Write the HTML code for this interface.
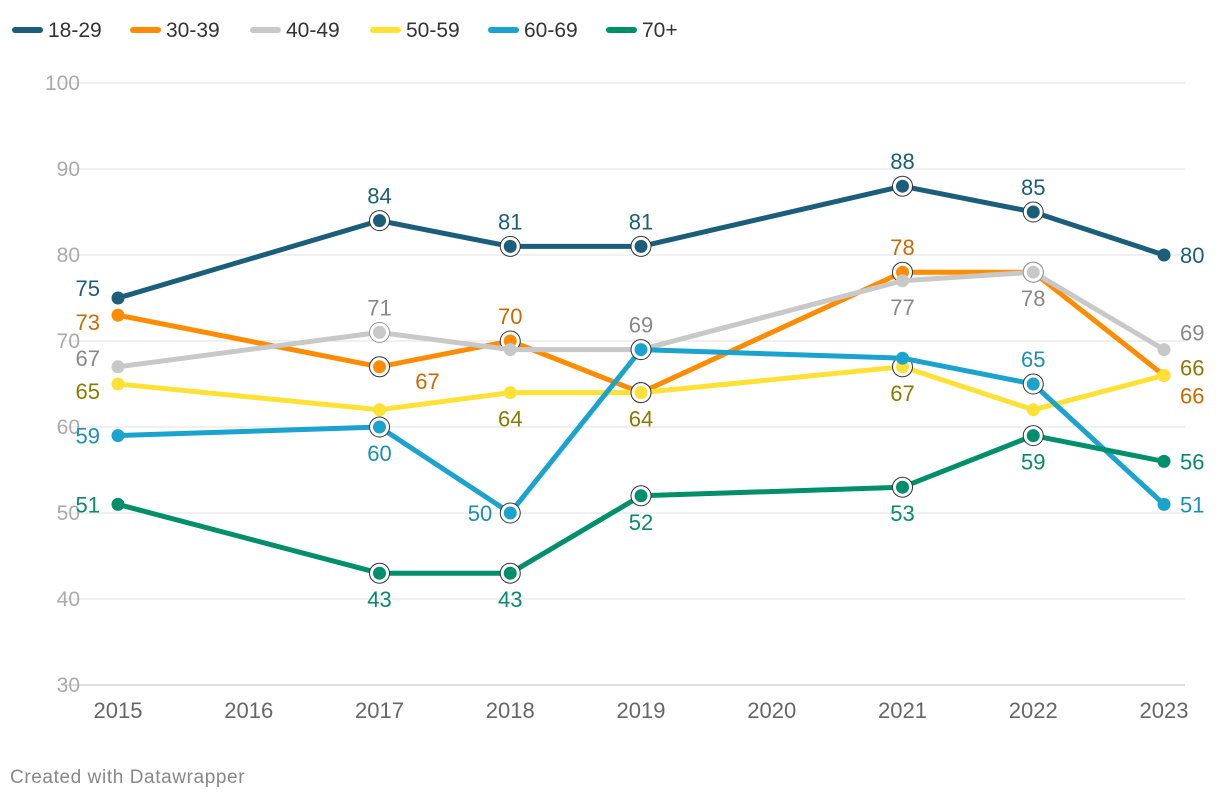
<!DOCTYPE html>
<html><head><meta charset="utf-8"><style>
body{margin:0;background:#fff;font-family:"Liberation Sans",sans-serif;}
svg{display:block}
</style></head><body>
<svg id="chart" width="1220" height="800" xmlns="http://www.w3.org/2000/svg"></svg>
<script>
const years=[2015,2017,2018,2019,2021,2022,2023];
const seriesNames=["18-29","30-39","40-49","50-59","60-69","70+"];
const s1829=[75,84,81,81,88,85,80];
const s3039=[73,67,70,64,78,78,66];
const s4049=[67,71,69,69,77,78,69];
const s5059=[65,62,64,64,67,62,66];
const s6069=[59,60,50,69,68,65,51];
const s70=[51,43,43,52,53,59,56];
const yTicks=[30,40,50,60,70,80,90,100];
const xTicks=[2015,2016,2017,2018,2019,2020,2021,2022,2023];
const values=[s1829,s3039,s4049,s5059,s6069,s70];
const lineColors=["#1b5e7b","#ff8c00","#c8c8c8","#ffe135","#1ba3d0","#008f6b"];
const labelColors=["#1b5e7b","#c96a00","#888888","#8a7a00","#1a8fb5","#0a8a6a"];
// label placement per point
const place=[
 ["la","a","a","a","a","a","r"],
 ["ld","br","a","x","a","x","rb"],
 ["lu","a","x","a","b","b","rA"],
 ["ld","x","b","b","b","x","ra"],
 ["l","b","l","x","x","a","r"],
 ["l","b","b","b","b","b","r"]];
const rings=[
 [0,1,1,1,1,1,0],[0,1,1,1,1,1,0],[0,1,0,0,0,1,0],[0,0,0,1,1,0,0],[0,1,1,1,0,1,0],[0,1,1,1,1,1,0]];
const X=y=>118+(y-2015)*130.75;
const Y=v=>685-(v-30)*8.6;
const NS="http://www.w3.org/2000/svg";
const svg=document.getElementById('chart');
function mk(t,a,p){const e=document.createElementNS(NS,t);for(const k in a)e.setAttribute(k,a[k]);(p||svg).appendChild(e);return e;}
yTicks.forEach(t=>{
 const l=mk('line',{x1:62,x2:1185,y1:Y(t),y2:Y(t),stroke:t===30?'#bbb':'#e2e2e2','stroke-width':1});
 
 
 const tx=mk('text',{x:80,y:Y(t)+7,'text-anchor':'end','font-size':21,fill:'#aaa'});tx.textContent=t;
 
 
});
xTicks.forEach(t=>{
 const tx=mk('text',{x:X(t),y:718,'text-anchor':'middle','font-size':22,fill:'#666'});tx.textContent=t;
 
 
});
values.forEach((vals,si)=>{
 const g=mk('g',{});
 
 
 const pts=vals.map((v,i)=>X(years[i])+','+Y(v)).join(' ');
 mk('polyline',{points:pts,fill:'none',stroke:lineColors[si],'stroke-width':5,'stroke-linejoin':'round','stroke-linecap':'round'},g);
 vals.forEach((v,i)=>{
  const cx=X(years[i]),cy=Y(v);
  if(rings[si][i])mk('circle',{cx,cy,r:10,fill:'#fff',stroke:lineColors[si]==='#c8c8c8'?'#999':'#333','stroke-width':1},g);
  const c=mk('circle',{cx,cy,r:6.5,fill:lineColors[si]},g);
  
  
  const p=place[si][i];if(p==='x')return;
  let tx=cx,ty=cy+8,anc='middle';
  if(p==='a')ty=cy-17;
  if(p==='b')ty=cy+34;
  if(p[0]==='l'){tx=cx-18;anc='end';}
  if(p==='la')ty=cy-2;
  if(p==='lu')ty=cy-1;
  if(p==='ld')ty=cy+15;
  if(p==='br'){tx=cx+48;ty=cy+22;}
  if(p[0]==='r'){tx=cx+16;anc='start';}
  if(p==='rb')ty=cy+28;
  if(p==='ra')ty=cy;
  if(p==='rA')ty=cy-9;
  const t=mk('text',{x:tx,y:ty,'text-anchor':anc,'font-size':22,fill:labelColors[si]},g);t.textContent=v;
  
  
 });
});
const lx=[12,130,250,370,488,606];
seriesNames.forEach((n,i)=>{
 const g=mk('g',{});
 
 
 mk('line',{x1:lx[i]+3,x2:lx[i]+28,y1:30,y2:30,stroke:lineColors[i],'stroke-width':6,'stroke-linecap':'round'},g);
 const t=mk('text',{x:lx[i]+36,y:37,'font-size':21,fill:'#333'},g);t.textContent=n;
});
const f=mk('text',{x:10,y:783,'font-size':19,fill:'#888','letter-spacing':'0.6'});f.textContent='Created with Datawrapper';


</script>
</body></html>
